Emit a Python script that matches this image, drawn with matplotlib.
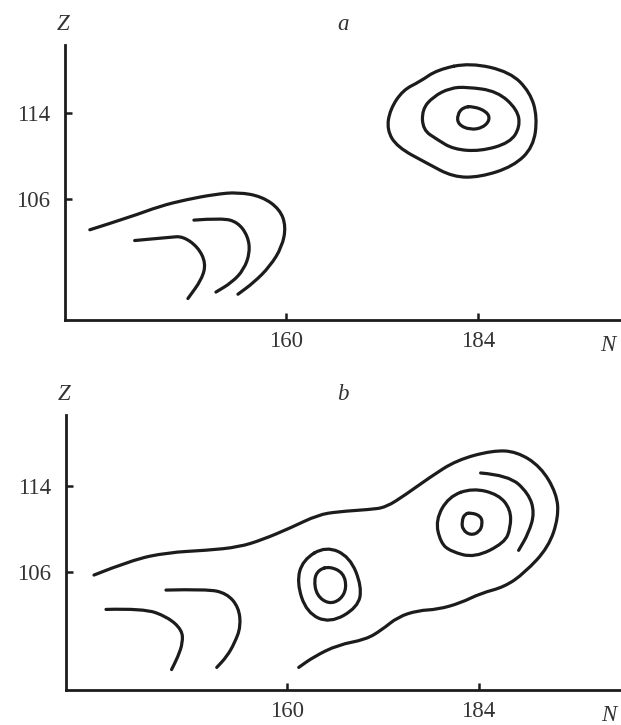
import matplotlib
matplotlib.use("Agg")
import matplotlib.pyplot as plt
from matplotlib.path import Path
from matplotlib.patches import PathPatch
import numpy as np

# axis ticks
n_ticks = [160, 184]
z_ticks = [106, 114]

# panel a: open contours at the lower left
a_arc1_n = [135.5, 140.6, 144.25, 147.5, 151.1, 154.0, 157.0, 159.25, 160.0, 159.5, 158.0, 156.0, 154.0]
a_arc1_z = [103.1, 104.3, 105.3, 105.9, 106.4, 106.6, 106.2, 105.0, 103.4, 101.5, 99.7, 98.2, 97.1]
a_arc2_n = [148.5, 152.0, 154.0, 155.25, 155.5, 154.75, 153.25, 151.25]
a_arc2_z = [104.0, 104.2, 103.8, 102.5, 101.0, 99.4, 98.2, 97.3]
a_arc3_n = [141.1, 145.5, 147.1, 149.0, 150.0, 149.5, 147.75]
a_arc3_z = [102.1, 102.4, 102.5, 101.5, 100.0, 98.5, 96.7]

# panel a: closed rings around N=184, Z=114
a_ring1_n = [183.0, 188.0, 190.5, 191.4, 190.9, 188.4, 184.25, 180.9, 177.6, 173.9, 172.6, 173.0, 174.6, 176.75, 178.9]
a_ring1_z = [118.65, 117.8, 115.9, 113.6, 110.8, 109.0, 108.0, 108.0, 109.3, 110.8, 112.4, 114.3, 116.1, 116.9, 118.0]
a_ring2_n = [182.6, 186.4, 188.9, 189.25, 188.0, 184.25, 180.9, 178.9, 177.1, 177.0, 178.4, 180.5]
a_ring2_z = [116.4, 116.0, 114.3, 112.7, 111.2, 110.4, 110.6, 111.5, 112.4, 114.3, 115.5, 116.3]
a_ring3_n = [183.4, 185.1, 185.5, 184.6, 183.0, 181.5, 181.4, 182.1]
a_ring3_z = [114.6, 114.1, 113.35, 112.6, 112.4, 112.9, 113.8, 114.5]

# panel b: long open contour
b_long_n = [135.9, 140.6, 145.1, 150.0, 154.0, 157.0, 160.5, 163.9, 166.4, 170.4, 172.4, 174.9,
            177.9, 181.25, 185.75, 188.75, 191.75, 193.75, 194.0, 192.75, 189.75, 187.25, 184.25,
            181.75, 178.9, 176.4, 173.9, 171.9, 169.9, 166.4, 163.4, 161.5]
b_long_z = [105.7, 107.1, 107.8, 108.0, 108.3, 109.0, 110.1, 111.3, 111.6, 111.8, 112.0, 113.2,
            114.8, 116.4, 117.3, 117.2, 115.8, 113.3, 111.1, 108.3, 105.9, 104.6, 104.0,
            103.1, 102.5, 102.4, 101.8, 100.6, 99.7, 99.2, 98.1, 97.1]
b_arc_n = [184.25, 187.75, 190.25, 191.0, 190.25, 189.0]
b_arc_z = [115.2, 115.0, 113.3, 111.5, 109.6, 108.0]

# panel b: rings near N=184 and N=165
b_ring1_n = [183.25, 186.5, 188.0, 188.0, 187.25, 183.5, 180.5, 179.25, 178.6, 180.25]
b_ring1_z = [113.8, 113.2, 111.8, 110.1, 108.7, 107.3, 107.9, 108.7, 110.8, 113.0]
b_ring2_n = [183.1, 184.25, 184.5, 184.1, 183.0, 182.0, 181.9, 182.25]
b_ring2_z = [111.5, 111.2, 110.5, 109.7, 109.4, 109.9, 110.7, 111.4]
b_ring3_n = [164.9, 167.9, 169.4, 168.9, 165.4, 162.5, 161.25, 162.0]
b_ring3_z = [108.4, 107.4, 104.6, 102.7, 101.2, 102.2, 105.0, 107.1]
b_ring4_n = [165.4, 167.1, 167.5, 166.75, 165.25, 163.75, 163.4, 164.0]
b_ring4_z = [106.5, 105.9, 104.5, 103.4, 103.0, 103.8, 105.3, 106.2]

# panel b: open contours at the lower left
b_arc1_n = [144.9, 150.0, 152.5, 154.0, 154.25, 153.5, 152.5, 151.25]
b_arc1_z = [104.3, 104.4, 104.0, 102.7, 100.9, 99.4, 98.1, 97.1]
b_arc2_n = [137.4, 142.1, 145.1, 146.9, 147.0, 146.4, 145.6]
b_arc2_z = [102.5, 102.6, 101.8, 100.6, 99.4, 98.1, 96.9]

INK = "#1c1c1c"
SERIF = "Liberation Serif"


def smooth_path(n, z, closed=False):
    # quadratic bezier through the midpoints, points act as control points
    pts = np.column_stack([n, z])
    if closed:
        mids = (pts + np.roll(pts, -1, axis=0)) / 2
        verts = [mids[-1]]
        codes = [Path.MOVETO]
        for p, m in zip(pts, mids):
            verts += [p, m]
            codes += [Path.CURVE3, Path.CURVE3]
    else:
        verts = [pts[0]]
        codes = [Path.MOVETO]
        for i in range(1, len(pts) - 1):
            verts += [pts[i], (pts[i] + pts[i + 1]) / 2]
            codes += [Path.CURVE3, Path.CURVE3]
        verts.append(pts[-1])
        codes.append(Path.LINETO)
    return Path(verts, codes)


def draw(ax, n, z, closed=False):
    patch = PathPatch(smooth_path(n, z, closed), fill=False, edgecolor=INK,
                      linewidth=2.3, capstyle="round", joinstyle="round")
    ax.add_patch(patch)


def style_axes(ax, ylim, letter):
    ax.set_xlim(132.4, 201.75)
    ax.set_ylim(*ylim)
    for s in ["top", "right"]:
        ax.spines[s].set_visible(False)
    for s in ["left", "bottom"]:
        ax.spines[s].set_linewidth(2.0)
        ax.spines[s].set_color(INK)
    ax.set_xticks(n_ticks)
    ax.set_yticks(z_ticks)
    ax.tick_params(direction="in", length=5, width=1.8, color=INK,
                   labelsize=16.5, labelcolor="#333333")
    ax.tick_params(axis="x", pad=8)
    ax.tick_params(axis="y", pad=11)
    for lab in ax.get_xticklabels() + ax.get_yticklabels():
        lab.set_fontfamily(SERIF)
    kw = dict(transform=ax.transAxes, fontfamily=SERIF, fontstyle="italic",
              fontsize=16.5, color="#333333", ha="center", va="center")
    ax.text(-0.004, 1.073, "Z", **kw)
    ax.text(0.50, 1.073, letter, **kw)
    ax.text(0.978, -0.091, "N", **kw)


fig = plt.figure(figsize=(6.21, 7.25), dpi=100)
ax_a = fig.add_axes([0.1047, 0.5586, 0.894, 0.3793])
ax_b = fig.add_axes([0.1063, 0.0483, 0.893, 0.3793])

style_axes(ax_a, (94.7, 120.3), "a")
draw(ax_a, a_arc1_n, a_arc1_z)
draw(ax_a, a_arc2_n, a_arc2_z)
draw(ax_a, a_arc3_n, a_arc3_z)
draw(ax_a, a_ring1_n, a_ring1_z, closed=True)
draw(ax_a, a_ring2_n, a_ring2_z, closed=True)
draw(ax_a, a_ring3_n, a_ring3_z, closed=True)

style_axes(ax_b, (95.0, 120.6), "b")
draw(ax_b, b_long_n, b_long_z)
draw(ax_b, b_arc_n, b_arc_z)
draw(ax_b, b_ring1_n, b_ring1_z, closed=True)
draw(ax_b, b_ring2_n, b_ring2_z, closed=True)
draw(ax_b, b_ring3_n, b_ring3_z, closed=True)
draw(ax_b, b_ring4_n, b_ring4_z, closed=True)
draw(ax_b, b_arc1_n, b_arc1_z)
draw(ax_b, b_arc2_n, b_arc2_z)

fig.savefig("out.png", dpi=100)
